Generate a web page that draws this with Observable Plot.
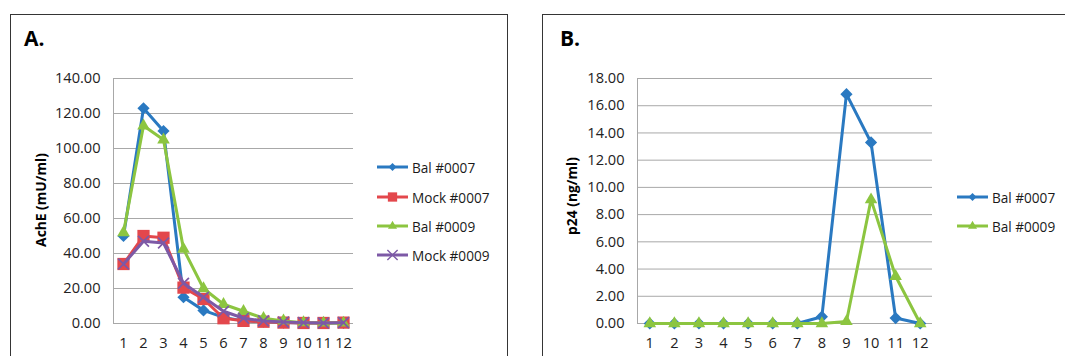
<!DOCTYPE html>
<html>
<head>
<meta charset="utf-8">
<script src="https://cdn.jsdelivr.net/npm/d3@7"></script>
<script src="https://cdn.jsdelivr.net/npm/@observablehq/plot@0.6"></script>
<style>
  html, body { margin: 0; padding: 0; background: #fff; }
  #root { position: relative; width: 1065px; height: 356px; overflow: hidden; background: #fff; font-family: "Open Sans", sans-serif; color: #222; }
  .panel { position: absolute; border: 1.6px solid #353535; box-sizing: border-box; background: #fff; }
  .abs { position: absolute; }
  .ptitle { font-weight: bold; font-size: 21px; color: #000; line-height: 1; }
  .ytitle { font-weight: bold; font-size: 13.8px; color: #000; width: 200px; text-align: center; line-height: 16px; transform: rotate(-90deg); }
  .leg { display: flex; align-items: center; font-size: 13.6px; color: #1a1a1a; height: 16px; }
  .leg svg { display: block; }
</style>
</head>
<body>
<div id="root"></div>
<script>
// ---- data ----
const fractions = [1, 2, 3, 4, 5, 6, 7, 8, 9, 10, 11, 12];

// Panel A: AchE (mU/ml)
const balA0007  = [50, 123, 110, 15, 7.5, 3.5, 1.5, 1, 0.5, 0.3, 0.3, 0.3];
const mockA0007 = [34, 50, 49, 20.5, 14, 3, 1.5, 1, 0.5, 0.3, 0.3, 0.5];
const balA0009  = [52, 113, 105, 42.5, 20, 11, 7, 3, 1.5, 0.5, 0.3, 0.3];
const mockA0009 = [34, 47, 46, 23, 15, 7, 3, 1.5, 0.8, 0.5, 0.3, 0.5];
const yTicksA = [0, 20, 40, 60, 80, 100, 120, 140];

// Panel B: p24 (ng/ml)
const balB0007 = [0, 0, 0, 0, 0, 0, 0, 0.5, 16.85, 13.3, 0.4, 0];
const balB0009 = [0, 0, 0, 0, 0, 0, 0, 0, 0.15, 9.1, 3.47, 0];
const yTicksB = [0, 2, 4, 6, 8, 10, 12, 14, 16, 18];

const seriesA = [
  {name: "Bal #0007",  values: balA0007,  color: "#2a79c1", symbol: "diamond2",  r: 5.5},
  {name: "Mock #0007", values: mockA0007, color: "#e3474c", symbol: "square2",   r: 7.8},
  {name: "Bal #0009",  values: balA0009,  color: "#8cc540", symbol: "triangle2", r: 6},
  {name: "Mock #0009", values: mockA0009, color: "#7d59a6", symbol: "times",     r: 5}
];
const seriesB = [
  {name: "Bal #0007", values: balB0007, color: "#2a79c1", symbol: "diamond2",  r: 5.5},
  {name: "Bal #0009", values: balB0009, color: "#8cc540", symbol: "triangle2", r: 6}
];

const root = document.getElementById("root");
const grid = "#a8a8a8";

function seriesMarks(series) {
  const marks = [];
  for (const s of series) {
    const rows = fractions.map((f, i) => ({f, v: s.values[i]}));
    marks.push(Plot.line(rows, {x: "f", y: "v", stroke: s.color, strokeWidth: 3, curve: "linear"}));
    if (s.symbol === "times") {
      marks.push(Plot.dot(rows, {x: "f", y: "v", symbol: "times", r: s.r, stroke: s.color, strokeWidth: 1.7, fill: "none"}));
    } else {
      marks.push(Plot.dot(rows, {x: "f", y: "v", symbol: s.symbol, r: s.r, fill: s.color, stroke: "none"}));
    }
  }
  return marks;
}

function panelPlot(opts) {
  return Plot.plot({
    width: opts.width, height: 356,
    marginLeft: opts.ml, marginRight: opts.mr, marginTop: 78, marginBottom: 33,
    style: {fontFamily: "Open Sans, sans-serif", fontSize: "14.6px", color: "#222", background: "transparent"},
    x: {type: "linear", domain: [0.5, 12.5], label: null},
    y: {domain: [0, opts.yTicks[opts.yTicks.length - 1]], label: null},
    marks: [
      Plot.gridY(opts.yTicks, {stroke: grid, strokeOpacity: 1, strokeWidth: 1}),
      Plot.ruleX([0.5], {stroke: grid, strokeWidth: 1}),
      Plot.axisX(fractions, {tickSize: 0, tickPadding: 14, tickFormat: d => String(d), label: null, fill: "#222"}),
      Plot.axisY(opts.yTicks, {tickSize: 0, tickPadding: 13, tickFormat: d => d.toFixed(2), label: null, fill: "#222"}),
      ...seriesMarks(opts.series)
    ]
  });
}

function legend(series, left, tops) {
  series.forEach((s, i) => {
    const row = document.createElement("div");
    row.className = "abs leg";
    row.style.left = left + "px";
    row.style.top = (tops[i] - 8) + "px";
    const size = s.symbol === "square2" ? 110 : s.symbol === "triangle2" ? 60 : s.symbol === "times" ? 70 : 40;
    const sym = {diamond2: d3.symbolDiamond2, square2: d3.symbolSquare2, triangle2: d3.symbolTriangle2, times: d3.symbolTimes}[s.symbol];
    const path = d3.symbol(sym, size)();
    const symAttr = s.symbol === "times"
      ? `fill="none" stroke="${s.color}" stroke-width="1.4"`
      : `fill="${s.color}"`;
    row.innerHTML = `<svg width="35" height="16"><line x1="0" x2="31" y1="8" y2="8" stroke="${s.color}" stroke-width="3"/><path transform="translate(15.5,8)" d="${path}" ${symAttr}/></svg><span>${s.name}</span>`;
    root.appendChild(row);
  });
}

// Panel frames
const pA = document.createElement("div");
pA.className = "panel";
Object.assign(pA.style, {left: "10px", top: "14px", width: "498px", height: "420px"});
root.appendChild(pA);
const pB = document.createElement("div");
pB.className = "panel";
Object.assign(pB.style, {left: "542px", top: "14px", width: "600px", height: "420px"});
root.appendChild(pB);

// Plots
const plotA = panelPlot({width: 530, ml: 113, mr: 177, yTicks: yTicksA, series: seriesA});
plotA.style.position = "absolute"; plotA.style.left = "0px"; plotA.style.top = "0px";
root.appendChild(plotA);
const plotB = panelPlot({width: 530, ml: 102, mr: 133, yTicks: yTicksB, series: seriesB});
plotB.style.position = "absolute"; plotB.style.left = "535px"; plotB.style.top = "0px";
root.appendChild(plotB);

// Titles
function addDiv(cls, text, left, top) {
  const d = document.createElement("div");
  d.className = "abs " + cls;
  d.textContent = text;
  d.style.left = left + "px";
  d.style.top = top + "px";
  root.appendChild(d);
  return d;
}
addDiv("ptitle", "A.", 24, 28);
addDiv("ptitle", "B.", 560, 28);
addDiv("ytitle", "AchE (mU/ml)", 41 - 100, 200 - 8);
addDiv("ytitle", "p24 (ng/ml)", 572 - 100, 196 - 8);

legend(seriesA, 377, [167, 197, 226, 255]);
legend(seriesB, 957, [197, 226]);
</script>
</body>
</html>
